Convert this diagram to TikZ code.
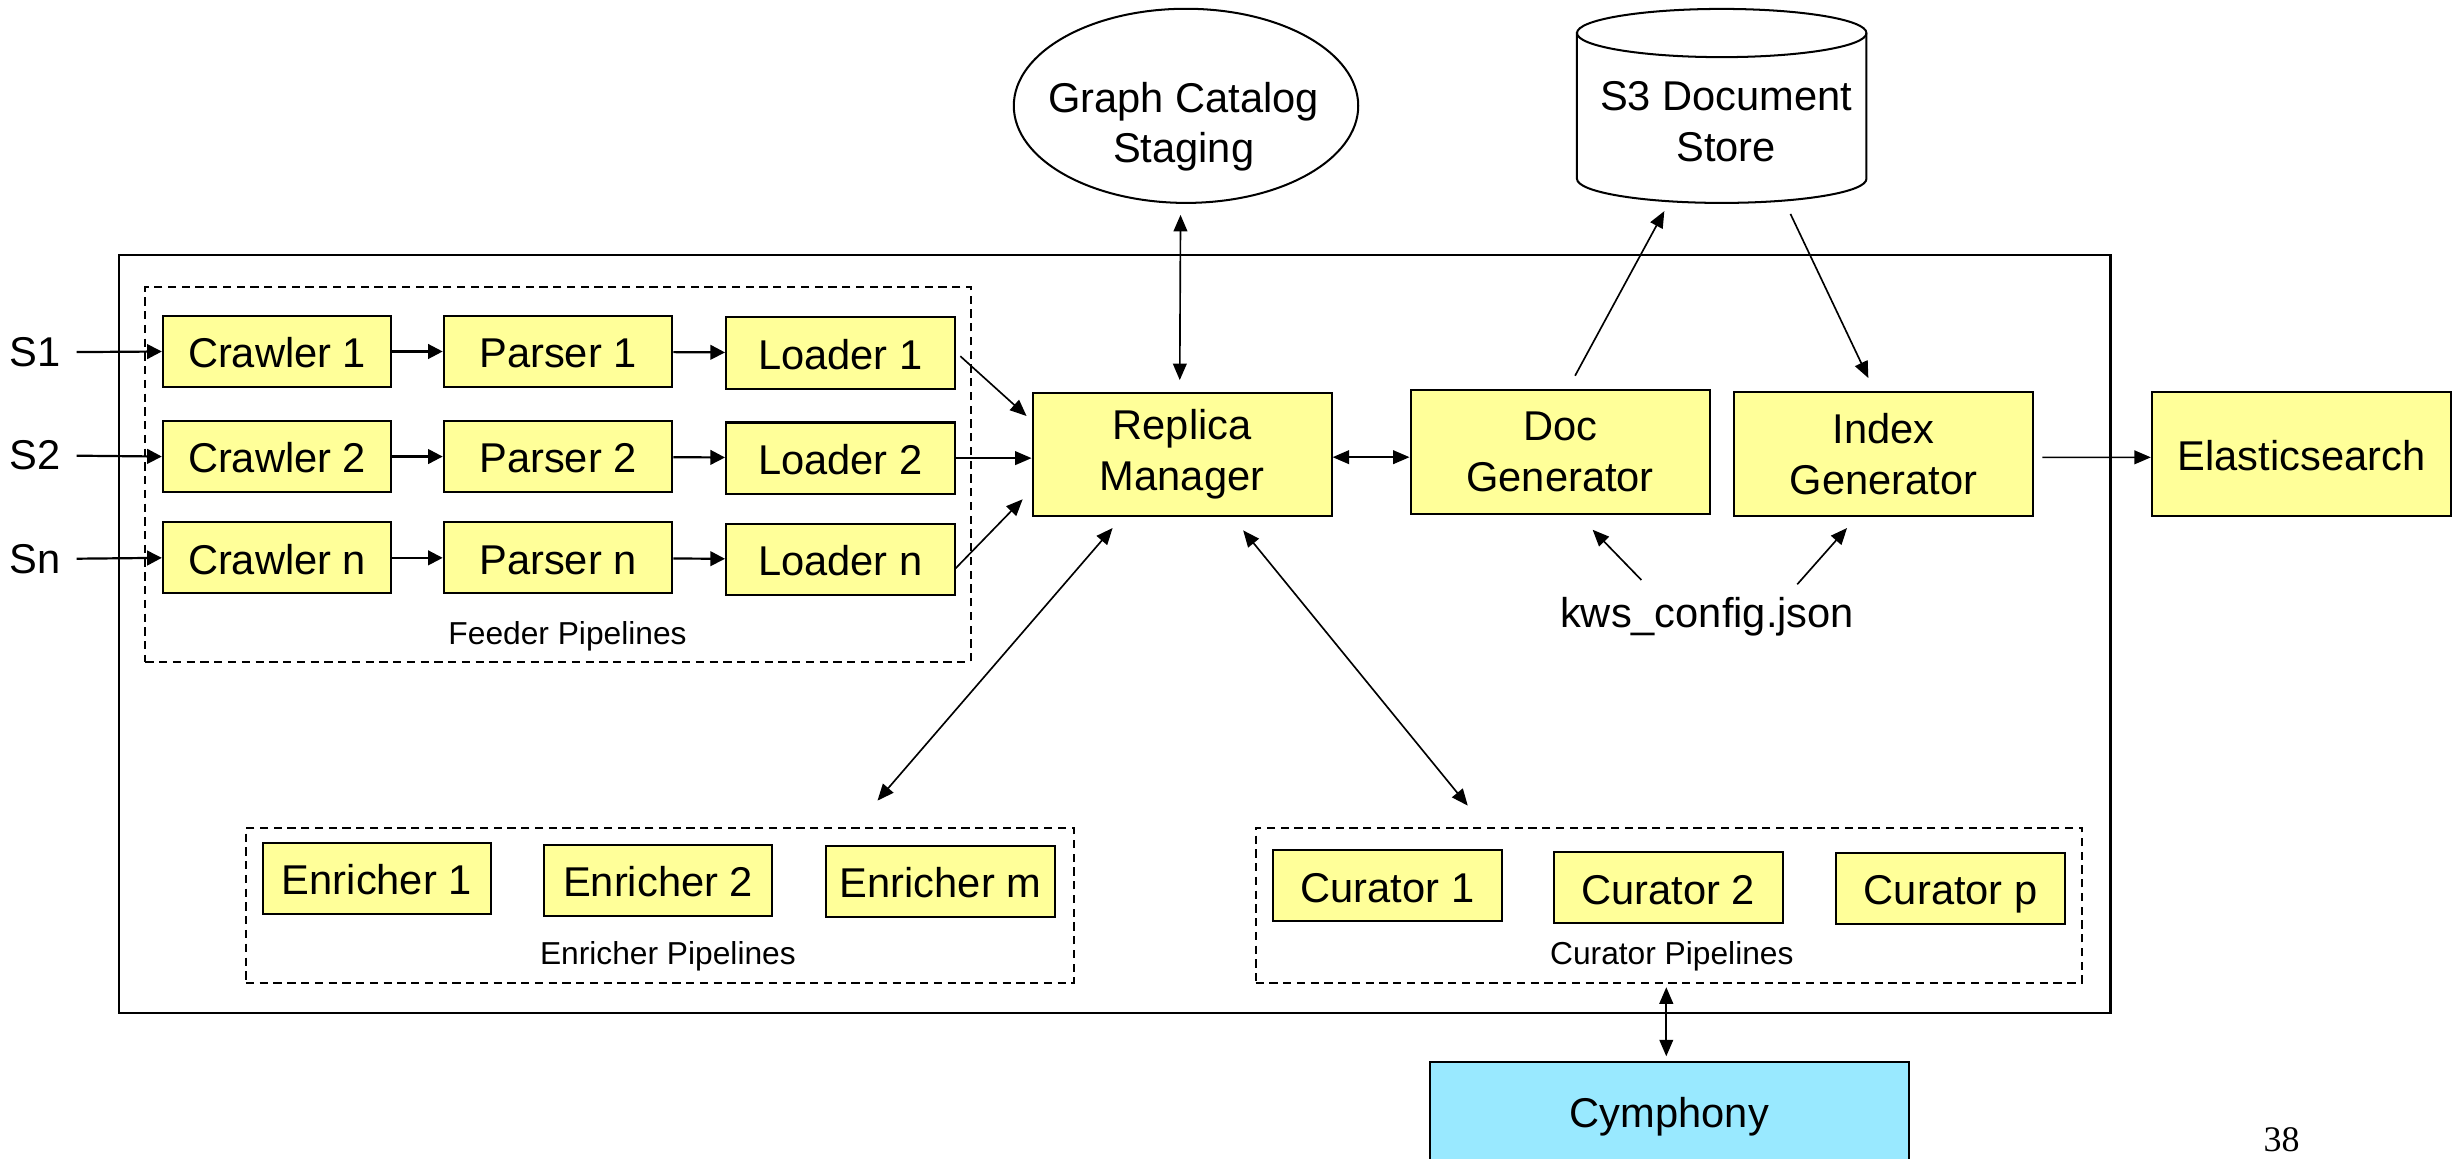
\documentclass[tikz,border=0pt]{standalone}
\usepackage{fontspec}
\setmainfont{Liberation Sans}
\newfontfamily\numfont{Liberation Serif}
\usetikzlibrary{arrows.meta,shapes.geometric,calc}
\definecolor{boxfill}{HTML}{FFFF99}
\definecolor{cymfill}{HTML}{99E9FF}
\newcommand\mainsize{\fontsize{22.7}{28.2}\selectfont}
\newcommand\smallsize{\fontsize{17.3}{20}\selectfont}
\begin{document}
\begin{tikzpicture}[x=0.03cm, y=-0.03cm,
  comp/.style={draw, line width=1.1pt, fill=boxfill, inner sep=0pt, font=\mainsize, align=center},
  stage/.style={comp, minimum width=146*0.03cm, minimum height=45.5*0.03cm, text height=20.4pt, text depth=2.5pt},
  hub/.style={comp, minimum width=191*0.03cm, minimum height=79*0.03cm},
  pipe/.style={draw, dash pattern=on 4.5pt off 3pt, line width=1.1pt, inner sep=0pt},
  plabel/.style={font=\smallsize, anchor=base, inner sep=0pt},
  tlabel/.style={font=\mainsize, anchor=base, inner sep=0pt},
  link/.style={line width=0.9pt, -{Triangle[length=9pt,width=7.5pt]}},
  link2/.style={line width=0.9pt, {Triangle[length=9pt,width=7.5pt]}-{Triangle[length=9pt,width=7.5pt]}},
  feed/.style={line width=1.2pt, -{Triangle[length=8pt,width=8pt]}}]
\useasboundingbox (0,0) rectangle (1568,740);
\clip (0,0) rectangle (1568,740);

% system frame
\draw[line width=1.2pt] (76.2,162.7) rectangle (1348,647.2);

% pipeline groups
\node[pipe, minimum width=527.1*0.03cm, minimum height=239.5*0.03cm] (feedgrp) at (356.45,302.85) {};
\node[pipe, minimum width=528.7*0.03cm, minimum height=99*0.03cm] (enr) at (421.45,578.5) {};
\node[pipe, minimum width=527.9*0.03cm, minimum height=99*0.03cm] (cur) at (1065.85,578.1) {};
\node[plabel] (feedlbl) at (362.5,411.5) {Feeder Pipelines};
\node[plabel] (enrlbl) at (426.6,616.3) {Enricher Pipelines};
\node[plabel] (curlbl) at (1067.8,615.9) {Curator Pipelines};

% sources
\node[tlabel] (s1) at (22.4,234.1) {S1};
\node[tlabel] (s2) at (22.4,300.1) {S2};
\node[tlabel] (sn) at (22.4,366.1) {Sn};

% feeder stages
\node[stage] (c1) at (177,224.5) {Crawler 1};
\node[stage] (p1) at (356.4,224.5) {Parser 1};
\node[stage] (l1) at (536.7,225.5) {Loader 1};
\node[stage] (c2) at (177,291.6) {Crawler 2};
\node[stage] (p2) at (356.4,291.6) {Parser 2};
\node[stage] (l2) at (536.7,292.6) {Loader 2};
\node[stage] (c3) at (177,356.3) {Crawler n};
\node[stage] (p3) at (356.4,356.3) {Parser n};
\node[stage] (l3) at (536.7,357.3) {Loader n};

% enrichers and curators
\node[stage] (e1) at (240.7,561) {Enricher 1};
\node[stage] (e2) at (420.3,562.2) {Enricher 2};
\node[stage] (em) at (600.7,563) {Enricher m};
\node[stage] (cu1) at (886.2,565.8) {Curator 1};
\node[stage] (cu2) at (1065.5,567) {Curator 2};
\node[stage] (cup) at (1245.9,567.5) {Curator p};

% central components
\node[hub] (rm) at (755,290.2) {Replica\\Manager};
\node[hub] (dg) at (996.4,288.6) {Doc\\Generator};
\node[hub] (ig) at (1203,290.1) {Index\\Generator};
\node[hub, text height=20.4pt, text depth=2.5pt] (es) at (1469.9,289.9) {Elasticsearch};

% graph catalog staging
\node[draw, ellipse, line width=1.1pt, inner sep=0pt, minimum width=220*0.03cm, minimum height=124*0.03cm] (gc) at (757.5,67.6) {};
\node[tlabel] (gct1) at (756,71.9) {Graph Catalog};
\node[tlabel] (gct2) at (756,103.8) {Staging};

% S3 document store (cylinder)
\node[inner sep=0pt, minimum width=184.9*0.03cm, minimum height=123.9*0.03cm] (s3) at (1099.65,67.65) {};
\draw[line width=1.1pt, fill=white] (1007.2,21.1) -- (1007.2,114.2)
  arc[start angle=180, end angle=0, x radius=92.45, y radius=15.4]
  -- (1192.1,21.1)
  arc[start angle=0, end angle=-180, x radius=92.45, y radius=15.4] -- cycle;
\draw[line width=1.1pt] (1007.2,21.1) arc[start angle=180, end angle=0, x radius=92.45, y radius=15.4];
\node[tlabel] (s3t1) at (1102.5,70.7) {S3 Document};
\node[tlabel] (s3t2) at (1102.5,103.1) {Store};

% configuration file
\node[tlabel] (kws) at (1090.3,400.7) {kws\_config.json};

% Cymphony
\node[draw, fill=cymfill, line width=1.1pt, inner sep=0pt, minimum width=306.3*0.03cm, minimum height=67*0.03cm] (cym) at (1066.25,711.6) {};
\node[tlabel] (cymt) at (1066.25,720) {Cymphony};

% page number
\node[anchor=base, inner sep=0pt, font=\numfont\fontsize{19.6}{22}\selectfont] (pg) at (1457.3,735.6) {38};

% feeder flows
\draw[feed, shorten <=0.3cm] (s1.east) -- (c1.west);
\draw[feed, shorten <=0.3cm] (s2.east) -- (c2.west);
\draw[feed, shorten <=0.3cm] (sn.east) -- (c3.west);
\draw[feed] (c1) -- (p1);
\draw[feed] (p1) -- (l1);
\draw[feed] (c2) -- (p2);
\draw[feed] (p2) -- (l2);
\draw[feed] (c3) -- (p3);
\draw[feed] (p3) -- (l3);

% loaders into the replica manager
\draw[link] ($(l1.east)+(3,2)$) -- ($(rm.west)+(-3.2,-24.5)$);
\draw[link] (l2.east) -- (rm.west |- l2.east);
\draw[link] ($(l3.east)+(0,5.7)$) -- ($(rm.west)+(-5.7,28.7)$);

% replica manager links
\draw[link2] ($(gc.south)+(-3.5,7)$) -- ($(rm.north)+(-1.5,-7.3)$);
\draw[link2] ($(rm.east)+(0,1.8)$) -- ($(dg.west)+(0,3.4)$);
\draw[link2] ($(rm.south)+(-44.4,6.9)$) -- ($(enr.north)+(139,-17)$);
\draw[link2] ($(rm.south)+(39,8.4)$) -- ($(cur.north)+(-128.4,-13.4)$);
\draw[link2] ($(cur.south)+(-1.6,2.3)$) -- ($(cym.north)+(-2,-2.8)$);

% document and index generation
\draw[link] ($(dg.north)+(9.6,-8.5)$) -- ($(s3.south)+(-36.65,5)$);
\draw[link] ($(s3.south)+(43.9,6.8)$) -- ($(ig.north)+(-9.7,-8.5)$);
\draw[link] ($(ig.east)+(5.3,2)$) -- ($(es.west)+(0,2.2)$);
\draw[link] ($(kws.base)+(-42,-30.3)$) -- ($(dg.south)+(20.8,9.6)$);
\draw[link] ($(kws.base)+(57.6,-27.5)$) -- ($(ig.south)+(-23.3,7)$);
\end{tikzpicture}
\end{document}
